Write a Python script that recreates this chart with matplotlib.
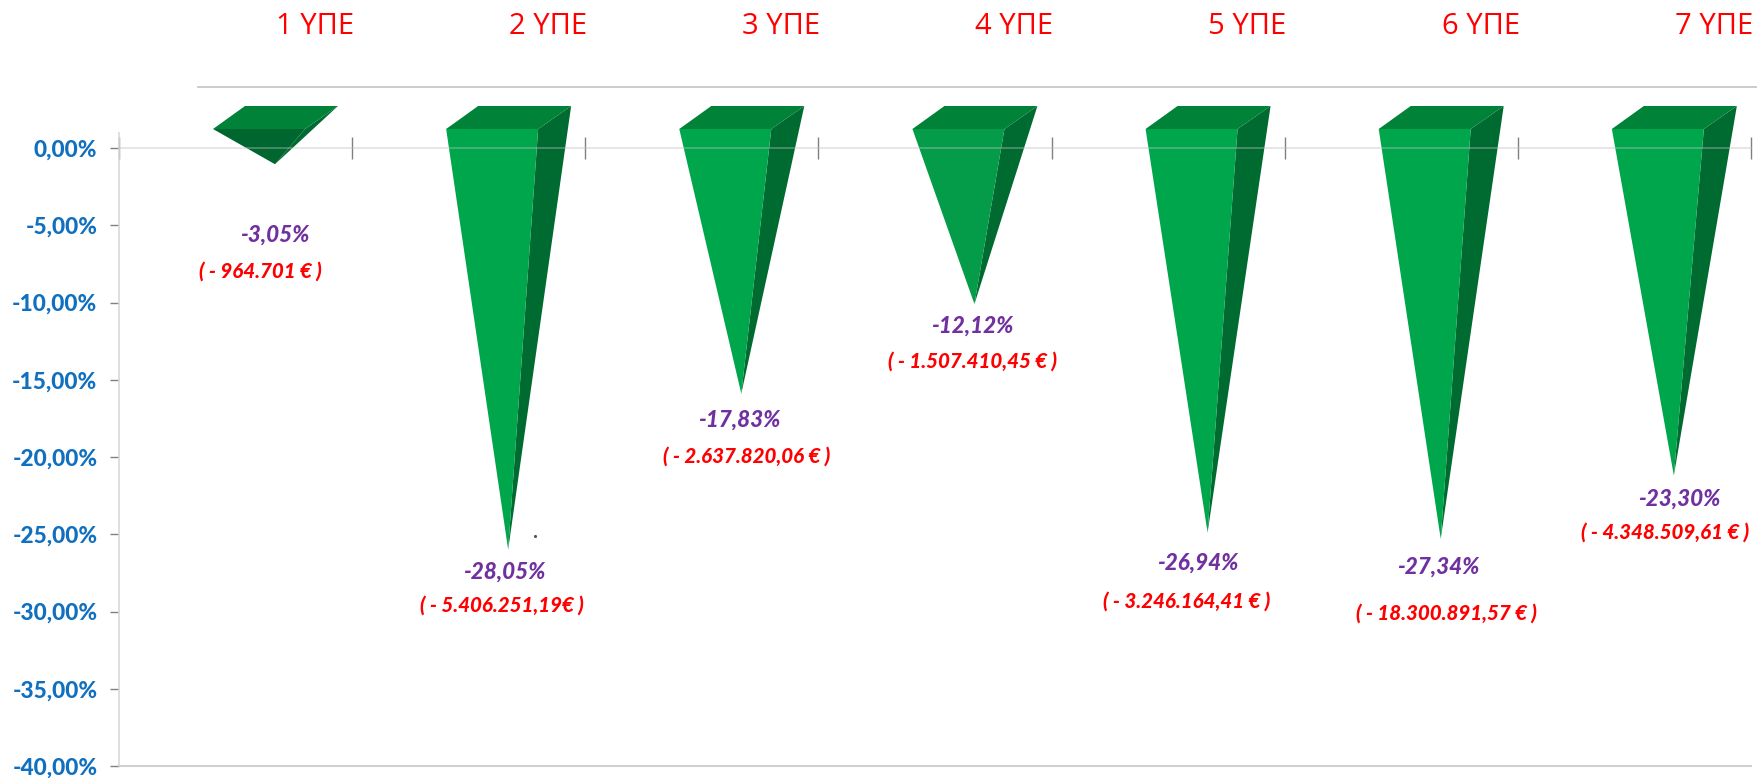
import matplotlib
matplotlib.use("Agg")
import matplotlib.pyplot as plt
from matplotlib.patches import Polygon

categories = ["1 ΥΠΕ", "2 ΥΠΕ", "3 ΥΠΕ", "4 ΥΠΕ", "5 ΥΠΕ", "6 ΥΠΕ", "7 ΥΠΕ"]
tip_values = [-1.05, -26.0, -15.9, -10.1, -24.9, -25.3, -21.2]
pct_labels = ["-3,05%", "-28,05%", "-17,83%", "-12,12%", "-26,94%", "-27,34%", "-23,30%"]
eur_labels = ["( - 964.701 € )", "( - 5.406.251,19€ )", "( - 2.637.820,06 € )",
              "( - 1.507.410,45 € )", "( - 3.246.164,41 € )", "( - 18.300.891,57 € )",
              "( - 4.348.509,61 € )"]
y_ticks = [0, -5, -10, -15, -20, -25, -30, -35, -40]
y_labels = ["0,00%", "-5,00%", "-10,00%", "-15,00%", "-20,00%", "-25,00%", "-30,00%", "-35,00%", "-40,00%"]

# label placement (pixel centres in the 1758x778 frame)
pct_pos = [(275, 235), (504, 572), (739, 420), (972, 326), (1198, 563), (1438, 567), (1679, 499)]
eur_pos = [(260, 271), (502, 605), (747, 456), (972, 361), (1187, 601), (1446, 613), (1665, 532)]

W, H = 1758, 778
X0, X1, Y_ZERO, PX_PER_PCT = 119, 1751, 148, 15.45
FONT = "Lato"
FRONT = ["#00662F", "#00A64C", "#00A64C", "#049C49", "#00A64C", "#00A64C", "#00A64C"]
TOP, SIDE = "#008239", "#006B30"

fig = plt.figure(figsize=(W / 100, H / 100), dpi=100, facecolor="white")
y_bottom = Y_ZERO + 40 * PX_PER_PCT
y_top = Y_ZERO - PX_PER_PCT
ax = fig.add_axes([X0 / W, 1 - y_bottom / H, (X1 - X0) / W, (y_bottom - y_top) / H])
ax.set_xlim(0, 7)
ax.set_ylim(-40, 1)
step = (X1 - X0) / 7


def dx(px):
    return px / step


def dy(py):
    return -(py - Y_ZERO) / PX_PER_PCT


for i, tip in enumerate(tip_values):
    fl, fr, br, bl, tx = [i + dx(v) for v in (94, 186, 219, 126, 156)]
    ftop, btop = dy(129), dy(106)
    ax.add_patch(Polygon([(fr, ftop), (br, btop), (tx, tip)], closed=True, fc=SIDE, ec="none", zorder=2))
    ax.add_patch(Polygon([(fl, ftop), (fr, ftop), (tx, tip)], closed=True, fc=FRONT[i], ec="none", zorder=2.1))
    ax.add_patch(Polygon([(fl, ftop), (bl, btop), (br, btop), (fr, ftop)], closed=True, fc=TOP, ec="none", zorder=2.2))
    for p in ax.patches[-3:]:
        p.set_clip_on(False)

for s in ("top", "right"):
    ax.spines[s].set_visible(False)
ax.spines["left"].set_color("#D9D9D9")
ax.spines["left"].set_linewidth(1.2)
ax.spines["bottom"].set_position(("data", 0))
ax.spines["bottom"].set_color("#BFBFBF")
ax.spines["bottom"].set_alpha(0.45)
ax.spines["bottom"].set_linewidth(1.2)
ax.spines["bottom"].set_zorder(5)
ax.axhline(-40, color="#D0D0D0", lw=1.5, clip_on=False, zorder=1)

ax.set_xticks(range(8))
ax.set_xticklabels([])
ax.tick_params(axis="x", direction="inout", length=16, width=1, color="#808080")
ax.set_yticks(y_ticks)
ax.set_yticklabels(y_labels, fontfamily=FONT, fontweight="black", fontsize=16.3, color="#1070BF")
ax.tick_params(axis="y", direction="out", length=6.5, width=1, color="#808080", pad=9)

ax.plot([dx(198 - X0), dx(W - X0)], [dy(87), dy(87)], color="#C8C8C8", lw=1.3, clip_on=False)

for i, c in enumerate(categories):
    ax.text(i + dx(196), dy(27), c, ha="center", va="center", family="Open Sans",
            fontsize=21, color="#FF0000", clip_on=False)

ax.plot([dx(535 - X0)], [dy(536)], marker=".", ms=2.5, color="#555555", clip_on=False)

for (x, y), t in zip(pct_pos, pct_labels):
    ax.text(dx(x - X0), dy(y), t, ha="center", va="center", family=FONT, fontweight="black",
            fontstyle="italic", fontsize=16.2, color="#7030A0", clip_on=False)
for (x, y), t in zip(eur_pos, eur_labels):
    ax.text(dx(x - X0), dy(y), t, ha="center", va="center", family=FONT, fontweight="black",
            fontstyle="italic", fontsize=14.8, color="#FF0000", clip_on=False)

fig.savefig("out.png", dpi=100, facecolor="white")
